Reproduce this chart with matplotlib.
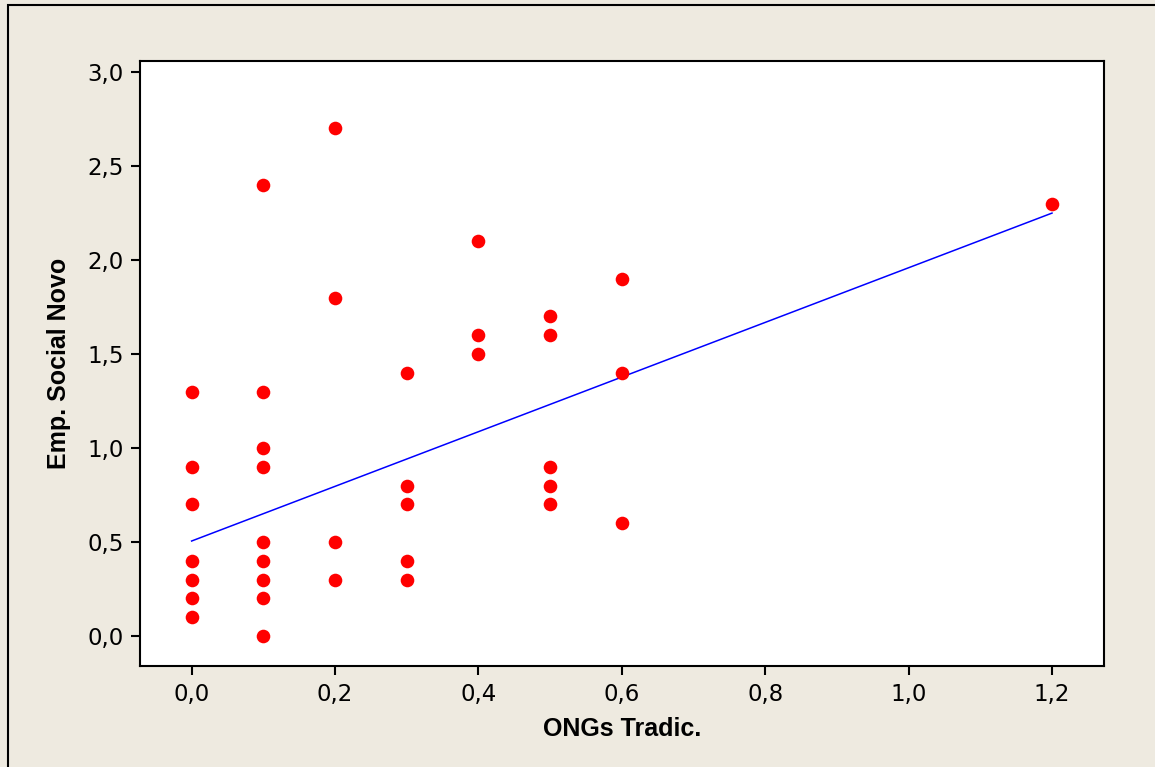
import numpy as np
import matplotlib
matplotlib.use("Agg")
import matplotlib.pyplot as plt
from matplotlib.patches import Rectangle
from matplotlib.ticker import FuncFormatter, MultipleLocator

# ONGs tradicionais (x) vs. empreendedorismo social novo (y)
ongs_tradic = [0.0, 0.0, 0.0, 0.0, 0.0, 0.0, 0.0,
               0.1, 0.1, 0.1, 0.1, 0.1, 0.1, 0.1, 0.1, 0.1,
               0.2, 0.2, 0.2, 0.2,
               0.3, 0.3, 0.3, 0.3, 0.3,
               0.4, 0.4, 0.4,
               0.5, 0.5, 0.5, 0.5, 0.5,
               0.6, 0.6, 0.6,
               1.2]
emp_social_novo = [1.3, 0.9, 0.7, 0.4, 0.3, 0.2, 0.1,
                   2.4, 1.3, 1.0, 0.9, 0.5, 0.4, 0.3, 0.2, 0.0,
                   2.7, 1.8, 0.5, 0.3,
                   1.4, 0.8, 0.7, 0.4, 0.3,
                   2.1, 1.6, 1.5,
                   1.7, 1.6, 0.9, 0.8, 0.7,
                   1.9, 1.4, 0.6,
                   2.3]

# fitted line coefficients
fit_intercept = 0.505
fit_slope = 1.454

bg = "#EEEAE0"
fig = plt.figure(figsize=(11.55, 7.67), dpi=100, facecolor=bg)
ax = fig.add_axes([140 / 1155, 1 - 666 / 767, 964 / 1155, 605 / 767])
ax.set_facecolor("white")

x = np.array(ongs_tradic)
y = np.array(emp_social_novo)

xs = np.array([x.min(), x.max()])
ax.plot(xs, fit_intercept + fit_slope * xs, color="#0000FF", lw=1.1, zorder=2)
ax.plot(x, y, "o", color="#FF0000", markersize=9.8, markeredgewidth=0, zorder=3)

ax.set_xlim(-0.072, 1.2725)
ax.set_ylim(-0.16, 3.059)
ax.xaxis.set_major_locator(MultipleLocator(0.2))
ax.yaxis.set_major_locator(MultipleLocator(0.5))
comma = FuncFormatter(lambda v, pos: f"{v:.1f}".replace(".", ","))
ax.xaxis.set_major_formatter(comma)
ax.yaxis.set_major_formatter(comma)

for s in ax.spines.values():
    s.set_linewidth(1.5)
    s.set_color("black")
ax.tick_params(direction="out", length=6.5, width=1.5, labelsize=16.5,
               colors="black")
ax.tick_params(axis="x", pad=6)
ax.tick_params(axis="y", pad=5)
for lab in ax.get_xticklabels() + ax.get_yticklabels():
    lab.set_fontfamily("DejaVu Sans")

ax.set_xlabel("ONGs Tradic.", fontsize=18, fontweight="bold",
              family="Liberation Sans", labelpad=8)
ax.set_ylabel("Emp. Social Novo", fontsize=18, fontweight="bold",
              family="Liberation Sans", labelpad=12)

# outer frame, running off the right and bottom edges
fig.patches.append(Rectangle((7.5 / 1155, -0.2), 1.2, 1.2 - 5.5 / 767,
                             transform=fig.transFigure, fill=False,
                             edgecolor="black", lw=1.5, zorder=-1))

fig.savefig("out.png", dpi=100, facecolor=bg)
